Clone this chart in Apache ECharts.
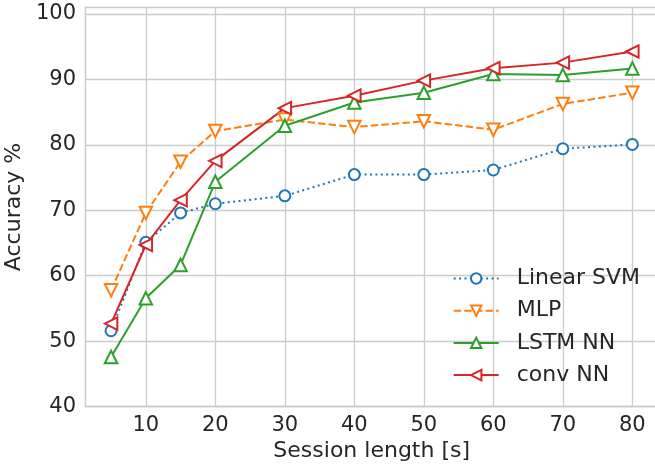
<!DOCTYPE html>
<html>
<head>
<meta charset="utf-8">
<script src="https://cdn.jsdelivr.net/npm/echarts@6/dist/echarts.min.js"></script>
<style>
html,body{margin:0;padding:0;background:#fff;}
#chart{width:655px;height:471px;}
</style>
</head>
<body>
<div id="chart"></div>
<script>
var sessionLengths = [5, 10, 15, 20, 30, 40, 50, 60, 70, 80];
var linearSVM = [51.6, 65.1, 69.6, 71.0, 72.2, 75.45, 75.45, 76.15, 79.4, 80.05];
var mlp = [57.8, 69.6, 77.4, 82.1, 83.85, 82.7, 83.6, 82.3, 86.25, 87.95];
var lstmNN = [47.6, 56.55, 61.65, 74.35, 82.9, 86.45, 87.95, 90.8, 90.65, 91.65];
var convNN = [52.7, 64.7, 71.55, 77.55, 85.6, 87.5, 89.8, 91.7, 92.55, 94.25];
var seriesNames = ['Linear SVM', 'MLP', 'LSTM NN', 'conv NN'];
var xTicks = [10, 20, 30, 40, 50, 60, 70, 80];
var yTicks = [40, 50, 60, 70, 80, 90, 100];

var colors = ['#1f77b4', '#ff7f0e', '#2ca02c', '#d62728'];
var textColor = '#262626';
var gridColor = '#cccccc';

function pairs(vals) {
  return sessionLengths.map(function (x, i) { return [x, vals[i]]; });
}

var chart = echarts.init(document.getElementById('chart'), null, {renderer: 'canvas'});

function mk(name, vals, color, symbol, rot, size, ltype) {
  return {
    name: name,
    type: 'line',
    data: pairs(vals),
    color: color,
    symbol: symbol,
    symbolSize: size,
    symbolRotate: rot,
    showAllSymbol: true,
    lineStyle: {width: 2, type: ltype, color: color, cap: 'butt'},
    itemStyle: {color: color, borderColor: color, borderWidth: 2},
    emphasis: {disabled: true},
    animation: false
  };
}

chart.setOption({
  backgroundColor: '#ffffff',
  animation: false,
  grid: {left: 85, top: 7.3, width: 573.4, bottom: 64.3, containLabel: false, outerBoundsMode: 'none'},
  xAxis: {
    type: 'value',
    min: 1.25,
    max: 83.75,
    minInterval: 10,
    maxInterval: 10,
    splitNumber: 8,
    name: 'Session length [s]',
    nameLocation: 'middle',
    nameGap: 33,
    nameTextStyle: {color: textColor, fontSize: 22, fontFamily: 'DejaVu Sans'},
    axisLine: {show: true, lineStyle: {color: gridColor, width: 1.3}},
    axisTick: {show: false},
    axisLabel: {
      color: textColor, fontSize: 21, fontFamily: 'DejaVu Sans', margin: 8,
      showMinLabel: false, showMaxLabel: false,
      formatter: function (v) { return xTicks.indexOf(v) >= 0 ? String(v) : ''; }
    },
    splitLine: {show: true, lineStyle: {color: gridColor, width: 1.3}}
  },
  yAxis: {
    type: 'value',
    min: 40,
    max: 101,
    interval: 10,
    name: 'Accuracy %',
    nameLocation: 'middle',
    nameGap: 50,
    nameTextStyle: {color: textColor, fontSize: 22, fontFamily: 'DejaVu Sans'},
    axisLine: {show: true, lineStyle: {color: gridColor, width: 1.3}},
    axisTick: {show: false},
    axisLabel: {
      color: textColor, fontSize: 21, fontFamily: 'DejaVu Sans', margin: 9,
      showMaxLabel: false,
      formatter: function (v) { return yTicks.indexOf(v) >= 0 ? String(v) : ''; }
    },
    splitLine: {show: true, lineStyle: {color: gridColor, width: 1.3}}
  },
  legend: {
    orient: 'vertical',
    left: 452.7,
    top: 267.5,
    padding: 0,
    itemWidth: 45,
    itemHeight: 13,
    itemGap: 10.2,
    data: seriesNames,
    textStyle: {color: textColor, fontSize: 22, fontFamily: 'DejaVu Sans', lineHeight: 22, padding: [0, 0, 0, 13]},
    selectedMode: false
  },
  series: [
    mk(seriesNames[0], linearSVM, colors[0], 'emptyCircle', 0, 11, [2, 3.4]),
    mk(seriesNames[1], mlp, colors[1], 'emptyTriangle', 180, 12.5, [7.4, 3.2]),
    mk(seriesNames[2], lstmNN, colors[2], 'emptyTriangle', 0, 12.5, 'solid'),
    mk(seriesNames[3], convNN, colors[3], 'emptyTriangle', 90, 12.5, 'solid')
  ]
});
</script>
</body>
</html>
